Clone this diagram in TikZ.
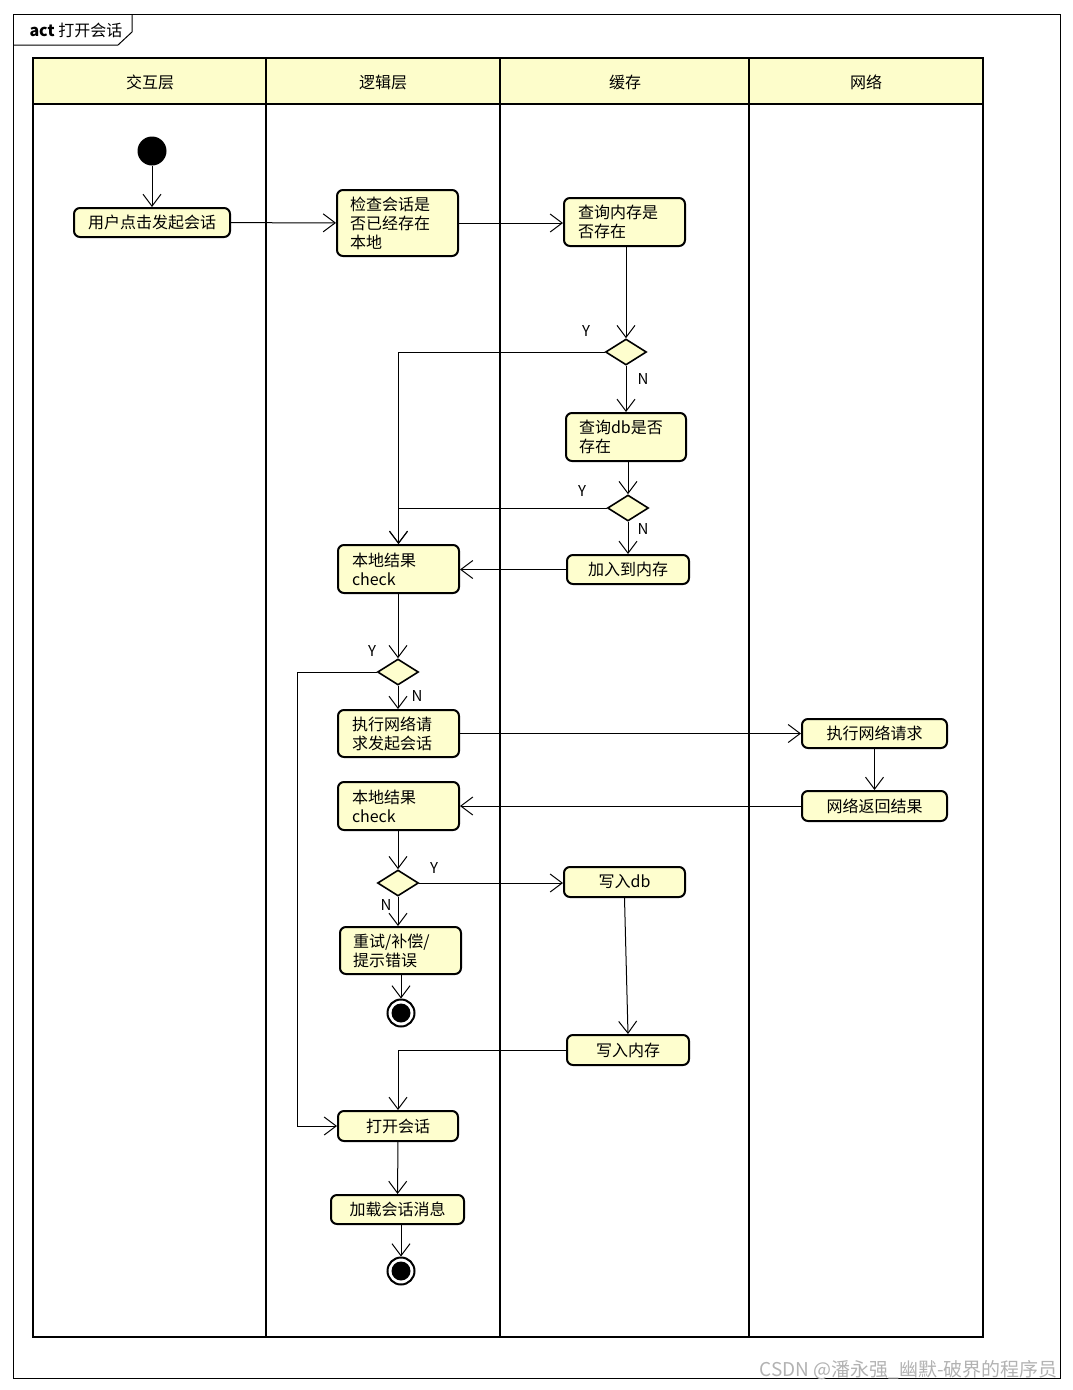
\documentclass[tikz,border=0pt]{standalone}
\usepackage{fontspec}
\newfontfamily\cjk{Noto Sans CJK SC}
\usetikzlibrary{arrows.meta,shapes.geometric}
\definecolor{boxfill}{HTML}{FEFECE}
\definecolor{headfill}{HTML}{FDFDCB}
\tikzset{
  actbox/.style={draw, line width=2pt, rounded corners=6pt, fill=boxfill, inner sep=0pt,
    font=\cjk\fontsize{16}{19}\selectfont},
  mline/.style={actbox, align=left},
  dec/.style={draw, line width=1.6pt, fill=boxfill, shape=diamond, inner sep=0pt,
    minimum width=41pt, minimum height=26pt},
  flow/.style={line width=1pt, -{Straight Barb[length=12pt,width=18pt,line width=1pt]}},
  plain/.style={line width=1pt},
  lab/.style={font=\cjk\fontsize{15}{16}\selectfont, inner sep=0pt},
  lane/.style={line width=2.6pt},
  head/.style={font=\cjk\fontsize{16}{18}\selectfont}
}
\begin{document}
\begin{tikzpicture}[x=1pt,y=-1pt]
\useasboundingbox (0,0) rectangle (1073,1390);
% outer frame and tab
\draw[line width=1pt] (13,14) rectangle (1060,1378);
\draw[line width=1pt] (13,45) -- (118,45) -- (132,32) -- (132,14);
\node[head, anchor=west] (title) at (26,30) {\textbf{act} 打开会话};
% swimlanes
\fill[headfill] (33,58) rectangle (983,104);
\draw[lane] (33,58) rectangle (983,1337);
\draw[lane] (33,104) -- (983,104);
\draw[lane] (266,58) -- (266,1337);
\draw[lane] (500,58) -- (500,1337);
\draw[lane] (749,58) -- (749,1337);
\node[head] (h1) at (150,82) {交互层};
\node[head] (h2) at (383,82) {逻辑层};
\node[head] (h3) at (625,82) {缓存};
\node[head] (h4) at (866,82) {网络};
% nodes
\node[circle, fill=black, minimum size=29pt, inner sep=0pt] (start) at (152,151) {};
\node[actbox, minimum width=156pt, minimum height=29pt] (user) at (152,222.5) {用户点击发起会话};
\node[mline, minimum width=121pt, minimum height=66pt, text width=95pt] (chk0) at (397.5,223) {检查会话是\\否已经存在\\本地};
\node[mline, minimum width=121pt, minimum height=48pt, text width=93pt] (qm) at (624.5,222) {查询内存是\\否存在};
\node[dec] (d1) at (626,352) {};
\node[mline, minimum width=120pt, minimum height=48pt, text width=94pt] (qdb) at (626,437) {查询db是否\\存在};
\node[dec] (d2) at (628,508) {};
\node[actbox, minimum width=122pt, minimum height=29pt] (addm) at (628,569.5) {加入到内存};
\node[mline, minimum width=121pt, minimum height=48pt, text width=93pt] (chk1) at (398.5,569) {本地结果\\check};
\node[dec] (d3) at (398,672) {};
\node[mline, minimum width=121pt, minimum height=47pt, text width=93pt] (nreq) at (398.5,733.5) {执行网络请\\求发起会话};
\node[actbox, minimum width=145pt, minimum height=29pt] (net1) at (874.5,733.5) {执行网络请求};
\node[actbox, minimum width=145pt, minimum height=30pt] (net2) at (874.5,806) {网络返回结果};
\node[mline, minimum width=121pt, minimum height=48pt, text width=93pt] (chk2) at (398.5,806) {本地结果\\check};
\node[dec] (d4) at (398,883) {};
\node[actbox, minimum width=121pt, minimum height=30pt] (wdb) at (624.5,882) {写入db};
\node[mline, minimum width=121pt, minimum height=47pt, text width=95pt] (retry) at (400.5,950.5) {重试/补偿/\\提示错误};
\node[circle, draw, line width=2pt, fill=white, minimum size=27pt, inner sep=0pt] (end1) at (401,1013) {};
\fill (end1.center) circle (9.5pt);
\node[actbox, minimum width=122pt, minimum height=30pt] (wm) at (628,1050) {写入内存};
\node[actbox, minimum width=120pt, minimum height=30pt] (open) at (398,1126) {打开会话};
\node[actbox, minimum width=133pt, minimum height=29pt] (load) at (397.5,1209.5) {加载会话消息};
\node[circle, draw, line width=2pt, fill=white, minimum size=27pt, inner sep=0pt] (end2) at (401,1271) {};
\fill (end2.center) circle (9.5pt);
\coordinate (lp) at (297,672);
% connectors
\draw[flow] (start) -- (user);
\draw[flow] (user) -- (chk0);
\draw[flow] (chk0.east) -- (qm.west |- chk0.east);
\draw[flow] (qm.south -| d1.north) -- (d1.north);
\draw[flow] (d1.west) -| (chk1.north);
\draw[flow] (d1.south) -- (qdb.north -| d1.south);
\draw[flow] (qdb.south -| d2.north) -- (d2.north);
\draw[flow] (d2.west) -| (chk1.north);
\draw[flow] (d2.south) -- (addm.north -| d2.south);
\draw[flow] (addm.west) -- (chk1.east |- addm.west);
\draw[flow] (chk1.south -| d3.north) -- (d3.north);
\draw[flow] (d3.west) -- (lp) |- (open.west);
\draw[flow] (d3.south) -- (nreq.north -| d3.south);
\draw[flow] (nreq.east) -- (net1.west);
\draw[flow] (net1) -- (net2);
\draw[flow] (net2.west) -- (chk2.east);
\draw[flow] (chk2.south -| d4.north) -- (d4.north);
\draw[flow] (d4.east) -- (wdb.west |- d4.east);
\draw[flow] (d4.south) -- (retry.north -| d4.south);
\draw[flow] (retry.south -| end1.north) -- (end1.north);
\draw[flow] (wdb.south) -- (wm.north);
\draw[flow] (wm.west) -| (open.north);
\draw[flow] (open) -- (load);
\draw[flow] (load.south -| end2.north) -- (end2.north);
% guard labels
\node[lab] (y1) at (586,331) {Y};
\node[lab] (n1) at (643,379) {N};
\node[lab] (y2) at (582,491) {Y};
\node[lab] (n2) at (643,529) {N};
\node[lab] (y3) at (372,651) {Y};
\node[lab] (n3) at (417,696) {N};
\node[lab] (y4) at (434,868) {Y};
\node[lab] (n4) at (386,905) {N};
% watermark
\node[font=\cjk\fontsize{19}{22}\selectfont, text=black!30, anchor=east, inner sep=0pt] (wmk) at (1058,1370) {CSDN @潘永强\_幽默-破界的程序员};
\end{tikzpicture}
\end{document}
